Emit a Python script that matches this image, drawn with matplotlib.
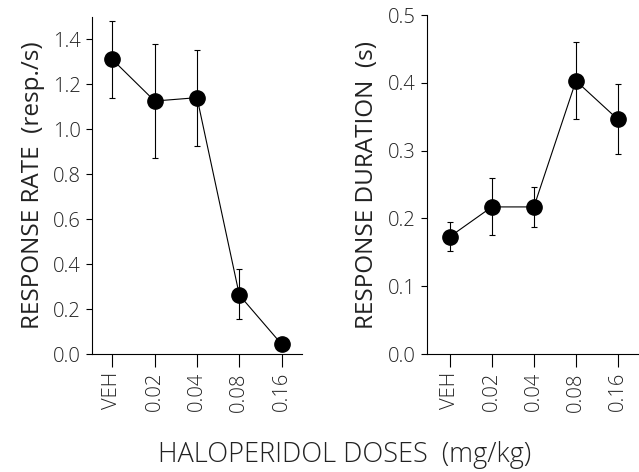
import matplotlib
matplotlib.use("Agg")
import matplotlib.pyplot as plt
import numpy as np

doses = ["VEH", "0.02", "0.04", "0.08", "0.16"]

rate_mean = [1.31, 1.125, 1.14, 0.262, 0.043]
rate_upper = [1.48, 1.378, 1.352, 0.376, 0.043]
rate_lower = [1.14, 0.87, 0.926, 0.154, 0.043]

dur_mean = [0.173, 0.217, 0.217, 0.403, 0.346]
dur_upper = [0.195, 0.259, 0.247, 0.461, 0.398]
dur_lower = [0.152, 0.176, 0.188, 0.346, 0.295]

rate_ticks = [0.0, 0.2, 0.4, 0.6, 0.8, 1.0, 1.2, 1.4]
dur_ticks = [0.0, 0.1, 0.2, 0.3, 0.4, 0.5]

plt.rcParams['font.family'] = ['Open Sans', 'DejaVu Sans']
plt.rcParams['font.weight'] = 'light'

fig = plt.figure(figsize=(6.39, 4.72), dpi=100)
ax1 = fig.add_axes([0.144, 0.25, 0.328, 0.7146])
ax2 = fig.add_axes([0.6677, 0.25, 0.331, 0.718])

def panel(ax, mean, up, lo, ticks, ylim, xlim, ylabel, fmt):
    x = np.arange(len(doses))
    m = np.array(mean)
    yerr = np.vstack([m - np.array(lo), np.array(up) - m])
    ax.errorbar(x, m, yerr=yerr, fmt='-o', color='black', lw=0.8,
                elinewidth=0.8, capsize=2.5, capthick=0.8,
                markersize=11, markerfacecolor='black', zorder=3)
    ax.set_xlim(*xlim)
    ax.set_ylim(*ylim)
    ax.set_xticks(x)
    ax.set_xticklabels(doses, rotation=90, fontsize=14.5, color='#222222')
    ax.set_yticks(ticks)
    ax.set_yticklabels([fmt.format(t) for t in ticks], fontsize=14.5, color='#222222')
    ax.spines['top'].set_visible(False)
    ax.spines['right'].set_visible(False)
    ax.spines['left'].set_linewidth(0.8)
    ax.spines['bottom'].set_linewidth(0.8)
    ax.tick_params(axis='y', direction='out', length=4, width=0.8, pad=4)
    ax.tick_params(axis='x', direction='out', length=9, width=0.8, pad=4)
    ax.set_ylabel(ylabel, fontsize=17.5, color='#222222', labelpad=6)

panel(ax1, rate_mean, rate_upper, rate_lower, rate_ticks, (0, 1.5), (-0.48, 4.47),
      "RESPONSE RATE  (resp./s)", "{:.1f}")
panel(ax2, dur_mean, dur_upper, dur_lower, dur_ticks, (0, 0.5), (-0.55, 4.48),
      "RESPONSE DURATION  (s)", "{:.1f}")

fig.text(0.54, 0.036, "HALOPERIDOL DOSES  (mg/kg)", ha='center', va='center',
         fontsize=19.5, color='#222222')

fig.savefig("out.png", dpi=100)
